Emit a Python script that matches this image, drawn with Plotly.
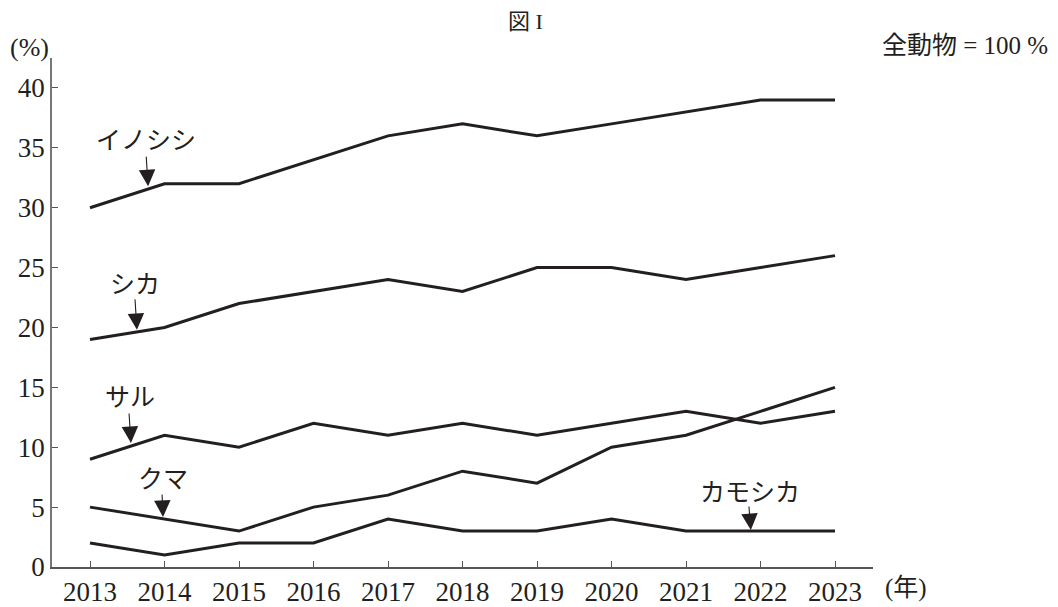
import plotly.graph_objects as go

years = [2013, 2014, 2015, 2016, 2017, 2018, 2019, 2020, 2021, 2022, 2023]
inoshishi = [30, 32, 32, 34, 36, 37, 36, 37, 38, 39, 39]
shika = [19, 20, 22, 23, 24, 23, 25, 25, 24, 25, 26]
saru = [9, 11, 10, 12, 11, 12, 11, 12, 13, 12, 13]
kuma = [5, 4, 3, 5, 6, 8, 7, 10, 11, 13, 15]
kamoshika = [2, 1, 2, 2, 4, 3, 3, 4, 3, 3, 3]

series = [
    ("イノシシ", inoshishi),
    ("シカ", shika),
    ("サル", saru),
    ("クマ", kuma),
    ("カモシカ", kamoshika),
]

y_ticks = [0, 5, 10, 15, 20, 25, 30, 35, 40]
x_tick_labels = [str(y) for y in years]

SERIF = "Liberation Serif, Times New Roman, serif"
MIX = "Liberation Serif, Noto Sans CJK JP, serif"
JP = "Noto Sans CJK JP, sans-serif"
INK = "#231f20"

fig = go.Figure()
for name, vals in series:
    fig.add_trace(go.Scatter(
        x=years, y=vals, mode="lines", name=name,
        line=dict(color=INK, width=3), showlegend=False, hoverinfo="skip",
    ))

# label text (data coords) and arrow (head in data coords, tail offset in px)
labels = [
    ("イノシシ", 2013.75, 35.8, 2013.78, 31.8, -2, -31),
    ("シカ", 2013.60, 23.8, 2013.63, 19.8, -2, -32),
    ("サル", 2013.54, 14.36, 2013.55, 10.35, -2, -31),
    ("クマ", 2013.98, 7.52, 2013.98, 4.18, -1, -24),
    ("カモシカ", 2021.86, 6.43, 2021.87, 3.09, -2, -25),
]
for text, tx, ty, hx, hy, ax, ay in labels:
    fig.add_annotation(x=tx, y=ty, xref="x", yref="y", text=text, showarrow=False,
                       font=dict(family=JP, size=25, color=INK),
                       xanchor="center", yanchor="middle")
    fig.add_annotation(x=hx, y=hy, xref="x", yref="y", text="", showarrow=True,
                       ax=ax, ay=ay, arrowhead=2, arrowsize=3, arrowwidth=1.1,
                       arrowcolor=INK, standoff=0)

fig.add_annotation(x=0.577, y=1.071, xref="paper", yref="paper", text="図 I",
                   showarrow=False, font=dict(family=MIX, size=22, color=INK),
                   xanchor="center", yanchor="middle")
fig.add_annotation(x=-0.0268, y=1.0216, xref="paper", yref="paper", text="(%)",
                   showarrow=False, font=dict(family=SERIF, size=26, color=INK),
                   xanchor="center", yanchor="middle")
fig.add_annotation(x=1.2156, y=1.0255, xref="paper", yref="paper",
                   text="全動物 = 100 %", showarrow=False,
                   font=dict(family=MIX, size=25, color=INK),
                   xanchor="right", yanchor="middle")
fig.add_annotation(x=1.040, y=-0.041, xref="paper", yref="paper", text="(年)",
                   showarrow=False, font=dict(family=MIX, size=25, color=INK),
                   xanchor="center", yanchor="middle")

fig.update_layout(
    width=1050, height=599,
    margin=dict(l=44, r=185, t=50, b=40, autoexpand=False),
    paper_bgcolor="white", plot_bgcolor="white",
    xaxis=dict(
        range=[2012.49, 2023.51],
        tickvals=years + [2023.5], ticktext=x_tick_labels + [""],
        ticks="inside", ticklen=6, tickwidth=1, tickcolor="#555",
        showline=True, linecolor="#555", linewidth=1.5,
        showgrid=False, zeroline=False, automargin=False,
        tickfont=dict(family=SERIF, size=27, color=INK),
    ),
    yaxis=dict(
        range=[0, 42.5],
        tickvals=y_ticks,
        ticks="inside", ticklen=6, tickwidth=1, tickcolor="#555",
        showline=True, linecolor="#777", linewidth=1.5,
        showgrid=False, zeroline=False, automargin=False,
        tickfont=dict(family=SERIF, size=27, color=INK),
    ),
)

fig.write_html("out.html")
